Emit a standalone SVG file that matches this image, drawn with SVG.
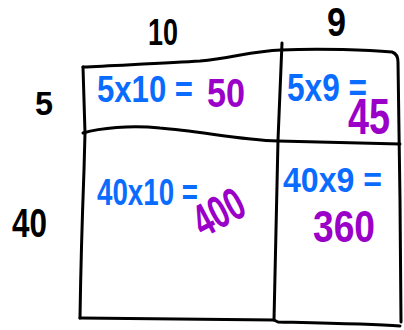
<svg xmlns="http://www.w3.org/2000/svg" width="404" height="330" viewBox="0 0 404 330">
<style>
.ln{fill:none;stroke:#000;stroke-width:3;stroke-linecap:round;stroke-linejoin:round}
.t{font-family:"Liberation Sans",Arial,sans-serif;font-weight:bold}
.k{fill:#000}
.b{fill:#0a6cff}
.p{fill:#9a00c8}
</style>
<rect width="404" height="330" fill="#fff"/>
<g id="connectors">
<path class="ln" d="M83,67 C120,65 170,63 200,61 C232,58 252,51 281,50 C320,48 370,50 392,52 Q398,54 398,62 L400,200 L401,322"/>
<path class="ln" d="M83,67 L85,133 L84,170 Q81,250 80,318"/>
<path class="ln" d="M282,43 L278,140 L274,320"/>
<path class="ln" d="M83,133 C100,128 130,125 160,128 C200,131 240,140 278,141 L400,144"/>
<path class="ln" d="M80,318 L274,320 L278,322 C320,323 370,324 400,326"/>
</g>
<g id="labels">
<text class="t k" x="148" y="45" font-size="37" textLength="30" lengthAdjust="spacingAndGlyphs">10</text>
<text class="t k" x="327" y="36" font-size="40" textLength="19" lengthAdjust="spacingAndGlyphs">9</text>
<text class="t k" x="35" y="115" font-size="33" textLength="18" lengthAdjust="spacingAndGlyphs">5</text>
<text class="t k" x="12" y="237" font-size="40" textLength="35" lengthAdjust="spacingAndGlyphs">40</text>
</g>
<g id="cell-5x10">
<text class="t b" x="97" y="102" font-size="37" textLength="96" lengthAdjust="spacingAndGlyphs">5x10 =</text>
<text class="t p" x="207" y="107" font-size="41" textLength="38" lengthAdjust="spacingAndGlyphs">50</text>
</g>
<g id="cell-5x9">
<text class="t b" x="287" y="101" font-size="38" textLength="80" lengthAdjust="spacingAndGlyphs">5x9 =</text>
<text class="t p" x="348" y="134" font-size="50" textLength="42" lengthAdjust="spacingAndGlyphs">45</text>
</g>
<g id="cell-40x10">
<text class="t b" x="97" y="205" font-size="37" textLength="101" lengthAdjust="spacingAndGlyphs">40x10 =</text>
<text class="t p" x="0" y="0" font-size="46" textLength="52" lengthAdjust="spacingAndGlyphs" text-anchor="middle" transform="translate(226,226) rotate(-28)">400</text>
</g>
<g id="cell-40x9">
<text class="t b" x="283" y="192" font-size="35" textLength="99" lengthAdjust="spacingAndGlyphs">40x9 =</text>
<text class="t p" x="313" y="242" font-size="44" textLength="62" lengthAdjust="spacingAndGlyphs">360</text>
</g>
</svg>
